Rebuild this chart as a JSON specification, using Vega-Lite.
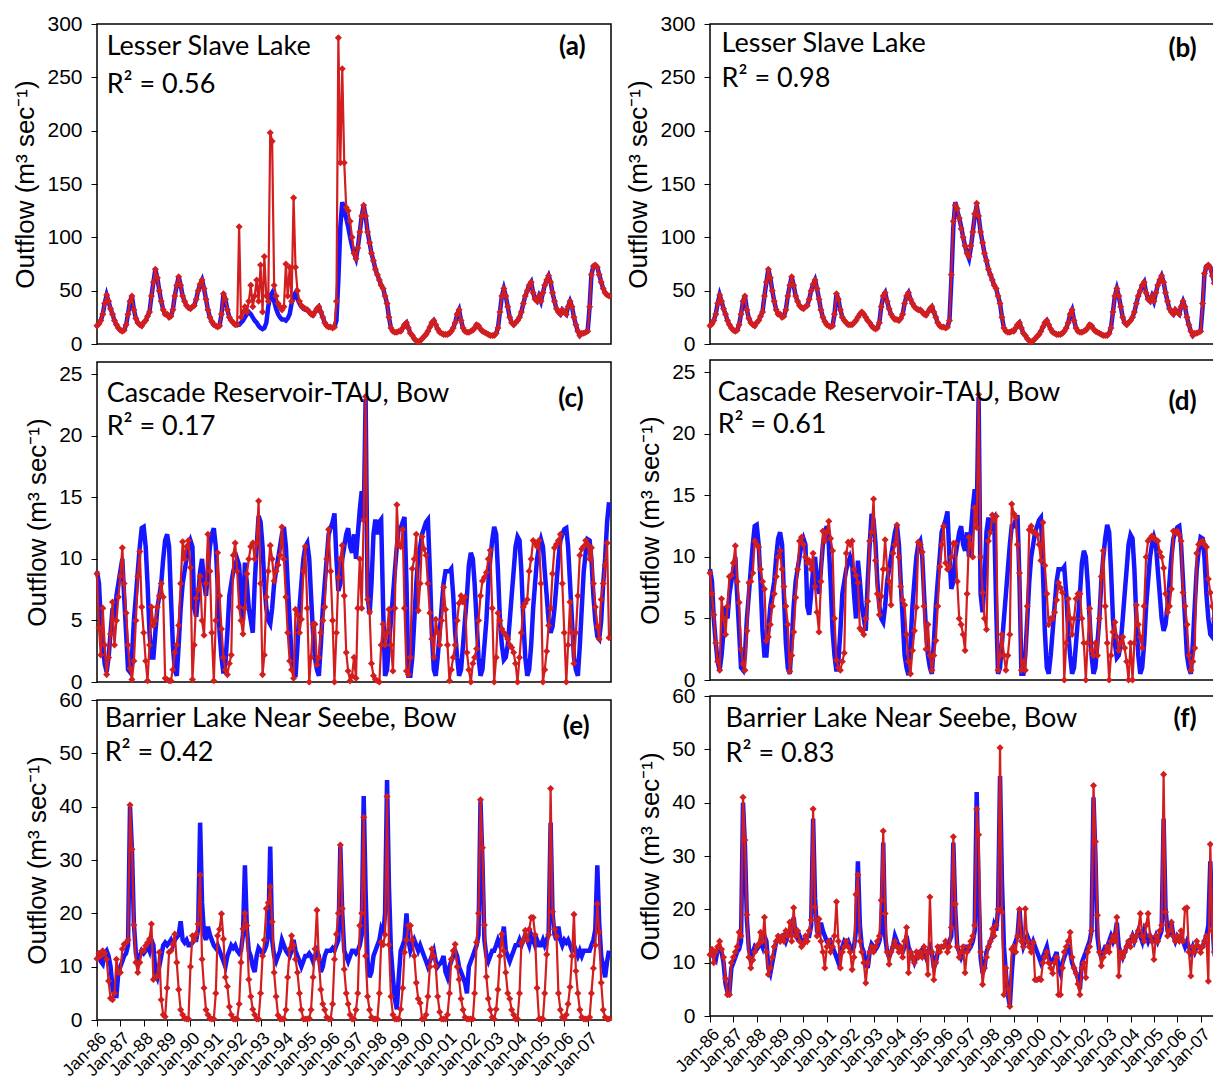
{
"$schema":"https://vega.github.io/schema/vega-lite/v6.json",
"padding":{"left":12,"top":12,"right":0,"bottom":0},
"background":"white",
"config":{
 "view":{"stroke":"#000","strokeWidth":1.5},
 "axis":{"grid":false,"domain":false,"ticks":true,"tickColor":"#000","tickSize":6,"tickWidth":1,"labelFont":"Liberation Sans","labelFontSize":21,"labelColor":"#000","titleFont":"Liberation Sans","titleFontSize":26,"titleFontWeight":"normal","titleColor":"#000","labelPadding":9,"titlePadding":8},
 "axisX":{"labelFontSize":17.5,"labelAngle":-45,"labelFlush":false,"labelPadding":3,"labelOverlap":false}
},
"datasets":{
"lsl":[
{"d":"1986-01","o":17,"a":17,"b":17},{"d":"1986-02","o":19,"a":19,"b":19},{"d":"1986-03","o":22,"a":22,"b":22},{"d":"1986-04","o":28,"a":28,"b":28},{"d":"1986-05","o":38,"a":38,"b":38},{"d":"1986-06","o":46,"a":46,"b":46},{"d":"1986-07","o":40,"a":40,"b":40},{"d":"1986-08","o":33,"a":33,"b":33},{"d":"1986-09","o":28,"a":28,"b":28},{"d":"1986-10","o":22,"a":22,"b":22},{"d":"1986-11","o":18,"a":18,"b":18},{"d":"1986-12","o":15,"a":15,"b":15},
{"d":"1987-01","o":13,"a":13,"b":13},{"d":"1987-02","o":12,"a":12,"b":12},{"d":"1987-03","o":13,"a":13,"b":13},{"d":"1987-04","o":18,"a":18,"b":18},{"d":"1987-05","o":28,"a":28,"b":28},{"d":"1987-06","o":40,"a":40,"b":40},{"d":"1987-07","o":45,"a":45,"b":45},{"d":"1987-08","o":32,"a":32,"b":32},{"d":"1987-09","o":24,"a":24,"b":24},{"d":"1987-10","o":20,"a":20,"b":20},{"d":"1987-11","o":18,"a":18,"b":18},{"d":"1987-12","o":17,"a":17,"b":17},
{"d":"1988-01","o":20,"a":20,"b":20},{"d":"1988-02","o":22,"a":22,"b":22},{"d":"1988-03","o":26,"a":26,"b":26},{"d":"1988-04","o":30,"a":30,"b":30},{"d":"1988-05","o":45,"a":45,"b":45},{"d":"1988-06","o":58,"a":58,"b":58},{"d":"1988-07","o":70,"a":70,"b":70},{"d":"1988-08","o":62,"a":62,"b":62},{"d":"1988-09","o":50,"a":50,"b":50},{"d":"1988-10","o":40,"a":40,"b":40},{"d":"1988-11","o":32,"a":32,"b":32},{"d":"1988-12","o":28,"a":28,"b":28},
{"d":"1989-01","o":28,"a":28,"b":28},{"d":"1989-02","o":25,"a":25,"b":25},{"d":"1989-03","o":26,"a":26,"b":26},{"d":"1989-04","o":32,"a":32,"b":32},{"d":"1989-05","o":45,"a":45,"b":45},{"d":"1989-06","o":55,"a":55,"b":55},{"d":"1989-07","o":63,"a":63,"b":63},{"d":"1989-08","o":55,"a":55,"b":55},{"d":"1989-09","o":45,"a":45,"b":45},{"d":"1989-10","o":40,"a":40,"b":40},{"d":"1989-11","o":36,"a":36,"b":36},{"d":"1989-12","o":34,"a":34,"b":34},
{"d":"1990-01","o":33,"a":33,"b":33},{"d":"1990-02","o":35,"a":35,"b":35},{"d":"1990-03","o":36,"a":36,"b":36},{"d":"1990-04","o":42,"a":42,"b":42},{"d":"1990-05","o":50,"a":50,"b":50},{"d":"1990-06","o":56,"a":56,"b":56},{"d":"1990-07","o":60,"a":60,"b":60},{"d":"1990-08","o":52,"a":52,"b":52},{"d":"1990-09","o":42,"a":42,"b":42},{"d":"1990-10","o":32,"a":32,"b":32},{"d":"1990-11","o":25,"a":25,"b":25},{"d":"1990-12","o":21,"a":21,"b":21},
{"d":"1991-01","o":18,"a":18,"b":18},{"d":"1991-02","o":17,"a":17,"b":17},{"d":"1991-03","o":16,"a":16,"b":16},{"d":"1991-04","o":17,"a":17,"b":17},{"d":"1991-05","o":28,"a":28,"b":28},{"d":"1991-06","o":47,"a":47,"b":47},{"d":"1991-07","o":42,"a":42,"b":42},{"d":"1991-08","o":32,"a":32,"b":32},{"d":"1991-09","o":25,"a":25,"b":25},{"d":"1991-10","o":22,"a":22,"b":22},{"d":"1991-11","o":20,"a":20,"b":20},{"d":"1991-12","o":18,"a":18,"b":18},
{"d":"1992-01","o":18,"a":18,"b":18},{"d":"1992-02","o":18,"a":110,"b":18},{"d":"1992-03","o":20,"a":25,"b":20},{"d":"1992-04","o":22,"a":30,"b":22},{"d":"1992-05","o":25,"a":35,"b":25},{"d":"1992-06","o":28,"a":30,"b":28},{"d":"1992-07","o":30,"a":40,"b":30},{"d":"1992-08","o":28,"a":55,"b":28},{"d":"1992-09","o":25,"a":35,"b":25},{"d":"1992-10","o":22,"a":45,"b":22},{"d":"1992-11","o":20,"a":60,"b":20},{"d":"1992-12","o":17,"a":40,"b":17},
{"d":"1993-01","o":15,"a":74,"b":15},{"d":"1993-02","o":14,"a":30,"b":14},{"d":"1993-03","o":15,"a":82,"b":15},{"d":"1993-04","o":20,"a":45,"b":20},{"d":"1993-05","o":35,"a":40,"b":35},{"d":"1993-06","o":45,"a":198,"b":45},{"d":"1993-07","o":48,"a":190,"b":48},{"d":"1993-08","o":40,"a":55,"b":40},{"d":"1993-09","o":33,"a":45,"b":33},{"d":"1993-10","o":28,"a":38,"b":28},{"d":"1993-11","o":25,"a":35,"b":25},{"d":"1993-12","o":23,"a":32,"b":23},
{"d":"1994-01","o":23,"a":35,"b":23},{"d":"1994-02","o":22,"a":75,"b":22},{"d":"1994-03","o":24,"a":45,"b":24},{"d":"1994-04","o":28,"a":72,"b":28},{"d":"1994-05","o":38,"a":40,"b":38},{"d":"1994-06","o":45,"a":137,"b":45},{"d":"1994-07","o":48,"a":72,"b":48},{"d":"1994-08","o":42,"a":50,"b":42},{"d":"1994-09","o":38,"a":40,"b":38},{"d":"1994-10","o":35,"a":36,"b":35},{"d":"1994-11","o":33,"a":34,"b":33},{"d":"1994-12","o":32,"a":33,"b":32},
{"d":"1995-01","o":32,"a":32,"b":32},{"d":"1995-02","o":30,"a":30,"b":30},{"d":"1995-03","o":28,"a":28,"b":28},{"d":"1995-04","o":27,"a":27,"b":27},{"d":"1995-05","o":30,"a":30,"b":30},{"d":"1995-06","o":33,"a":33,"b":33},{"d":"1995-07","o":35,"a":35,"b":35},{"d":"1995-08","o":30,"a":30,"b":30},{"d":"1995-09","o":25,"a":25,"b":25},{"d":"1995-10","o":20,"a":20,"b":20},{"d":"1995-11","o":17,"a":17,"b":17},{"d":"1995-12","o":16,"a":16,"b":16},
{"d":"1996-01","o":16,"a":16,"b":16},{"d":"1996-02","o":15,"a":15,"b":15},{"d":"1996-03","o":16,"a":16,"b":16},{"d":"1996-04","o":22,"a":40,"b":22},{"d":"1996-05","o":60,"a":287,"b":65},{"d":"1996-06","o":110,"a":170,"b":115},{"d":"1996-07","o":133,"a":258,"b":130},{"d":"1996-08","o":125,"a":170,"b":127},{"d":"1996-09","o":118,"a":128,"b":118},{"d":"1996-10","o":110,"a":125,"b":108},{"d":"1996-11","o":100,"a":115,"b":100},{"d":"1996-12","o":92,"a":100,"b":92},
{"d":"1997-01","o":85,"a":85,"b":85},{"d":"1997-02","o":80,"a":80,"b":82},{"d":"1997-03","o":90,"a":90,"b":92},{"d":"1997-04","o":105,"a":105,"b":105},{"d":"1997-05","o":120,"a":120,"b":122},{"d":"1997-06","o":130,"a":130,"b":132},{"d":"1997-07","o":120,"a":120,"b":120},{"d":"1997-08","o":105,"a":105,"b":105},{"d":"1997-09","o":95,"a":95,"b":95},{"d":"1997-10","o":85,"a":85,"b":85},{"d":"1997-11","o":78,"a":78,"b":78},{"d":"1997-12","o":70,"a":70,"b":70},
{"d":"1998-01","o":65,"a":65,"b":65},{"d":"1998-02","o":60,"a":60,"b":60},{"d":"1998-03","o":55,"a":55,"b":55},{"d":"1998-04","o":52,"a":52,"b":52},{"d":"1998-05","o":45,"a":45,"b":45},{"d":"1998-06","o":38,"a":38,"b":38},{"d":"1998-07","o":25,"a":25,"b":25},{"d":"1998-08","o":15,"a":15,"b":15},{"d":"1998-09","o":12,"a":12,"b":12},{"d":"1998-10","o":11,"a":11,"b":11},{"d":"1998-11","o":11,"a":11,"b":11},{"d":"1998-12","o":12,"a":12,"b":12},
{"d":"1999-01","o":12,"a":12,"b":12},{"d":"1999-02","o":15,"a":15,"b":15},{"d":"1999-03","o":18,"a":18,"b":18},{"d":"1999-04","o":20,"a":20,"b":20},{"d":"1999-05","o":15,"a":15,"b":15},{"d":"1999-06","o":10,"a":10,"b":10},{"d":"1999-07","o":8,"a":8,"b":8},{"d":"1999-08","o":5,"a":5,"b":5},{"d":"1999-09","o":3,"a":3,"b":3},{"d":"1999-10","o":2,"a":2,"b":2},{"d":"1999-11","o":3,"a":3,"b":3},{"d":"1999-12","o":5,"a":5,"b":5},
{"d":"2000-01","o":7,"a":7,"b":7},{"d":"2000-02","o":9,"a":9,"b":9},{"d":"2000-03","o":12,"a":12,"b":12},{"d":"2000-04","o":16,"a":16,"b":16},{"d":"2000-05","o":20,"a":20,"b":20},{"d":"2000-06","o":22,"a":22,"b":22},{"d":"2000-07","o":18,"a":18,"b":18},{"d":"2000-08","o":14,"a":14,"b":14},{"d":"2000-09","o":11,"a":11,"b":11},{"d":"2000-10","o":10,"a":10,"b":10},{"d":"2000-11","o":9,"a":9,"b":9},{"d":"2000-12","o":9,"a":9,"b":9},
{"d":"2001-01","o":9,"a":9,"b":9},{"d":"2001-02","o":10,"a":10,"b":10},{"d":"2001-03","o":12,"a":12,"b":12},{"d":"2001-04","o":15,"a":15,"b":15},{"d":"2001-05","o":20,"a":20,"b":20},{"d":"2001-06","o":28,"a":28,"b":28},{"d":"2001-07","o":32,"a":32,"b":32},{"d":"2001-08","o":22,"a":22,"b":22},{"d":"2001-09","o":15,"a":15,"b":15},{"d":"2001-10","o":12,"a":12,"b":12},{"d":"2001-11","o":11,"a":11,"b":11},{"d":"2001-12","o":11,"a":11,"b":11},
{"d":"2002-01","o":12,"a":12,"b":12},{"d":"2002-02","o":13,"a":13,"b":13},{"d":"2002-03","o":15,"a":15,"b":15},{"d":"2002-04","o":18,"a":18,"b":18},{"d":"2002-05","o":17,"a":17,"b":17},{"d":"2002-06","o":14,"a":14,"b":14},{"d":"2002-07","o":12,"a":12,"b":12},{"d":"2002-08","o":11,"a":11,"b":11},{"d":"2002-09","o":10,"a":10,"b":10},{"d":"2002-10","o":9,"a":9,"b":9},{"d":"2002-11","o":8,"a":8,"b":8},{"d":"2002-12","o":8,"a":8,"b":8},
{"d":"2003-01","o":8,"a":8,"b":8},{"d":"2003-02","o":10,"a":10,"b":10},{"d":"2003-03","o":15,"a":15,"b":15},{"d":"2003-04","o":30,"a":30,"b":30},{"d":"2003-05","o":45,"a":45,"b":45},{"d":"2003-06","o":52,"a":52,"b":52},{"d":"2003-07","o":45,"a":45,"b":45},{"d":"2003-08","o":35,"a":35,"b":35},{"d":"2003-09","o":25,"a":25,"b":25},{"d":"2003-10","o":20,"a":20,"b":20},{"d":"2003-11","o":18,"a":18,"b":18},{"d":"2003-12","o":20,"a":20,"b":20},
{"d":"2004-01","o":22,"a":22,"b":22},{"d":"2004-02","o":25,"a":25,"b":25},{"d":"2004-03","o":30,"a":30,"b":30},{"d":"2004-04","o":38,"a":38,"b":38},{"d":"2004-05","o":45,"a":45,"b":45},{"d":"2004-06","o":50,"a":50,"b":50},{"d":"2004-07","o":55,"a":55,"b":55},{"d":"2004-08","o":58,"a":58,"b":58},{"d":"2004-09","o":48,"a":48,"b":48},{"d":"2004-10","o":42,"a":42,"b":42},{"d":"2004-11","o":40,"a":40,"b":40},{"d":"2004-12","o":45,"a":45,"b":45},
{"d":"2005-01","o":40,"a":40,"b":40},{"d":"2005-02","o":48,"a":48,"b":48},{"d":"2005-03","o":55,"a":55,"b":55},{"d":"2005-04","o":60,"a":60,"b":60},{"d":"2005-05","o":64,"a":64,"b":64},{"d":"2005-06","o":58,"a":58,"b":58},{"d":"2005-07","o":48,"a":48,"b":48},{"d":"2005-08","o":40,"a":40,"b":40},{"d":"2005-09","o":33,"a":33,"b":33},{"d":"2005-10","o":30,"a":30,"b":30},{"d":"2005-11","o":28,"a":28,"b":28},{"d":"2005-12","o":32,"a":32,"b":32},
{"d":"2006-01","o":30,"a":30,"b":30},{"d":"2006-02","o":28,"a":28,"b":28},{"d":"2006-03","o":35,"a":35,"b":35},{"d":"2006-04","o":40,"a":40,"b":40},{"d":"2006-05","o":35,"a":35,"b":35},{"d":"2006-06","o":25,"a":25,"b":25},{"d":"2006-07","o":18,"a":18,"b":18},{"d":"2006-08","o":12,"a":12,"b":12},{"d":"2006-09","o":8,"a":8,"b":8},{"d":"2006-10","o":10,"a":10,"b":10},{"d":"2006-11","o":10,"a":10,"b":10},{"d":"2006-12","o":11,"a":11,"b":11},
{"d":"2007-01","o":12,"a":12,"b":12},{"d":"2007-02","o":35,"a":35,"b":38},{"d":"2007-03","o":65,"a":65,"b":66},{"d":"2007-04","o":73,"a":73,"b":72},{"d":"2007-05","o":74,"a":74,"b":74},{"d":"2007-06","o":72,"a":72,"b":71},{"d":"2007-07","o":65,"a":65,"b":64},{"d":"2007-08","o":58,"a":58,"b":57},{"d":"2007-09","o":52,"a":52,"b":52},{"d":"2007-10","o":48,"a":48,"b":48},{"d":"2007-11","o":46,"a":46,"b":46},{"d":"2007-12","o":45,"a":45,"b":45}
],
"cas":[
{"d":"1986-01","o":9,"a":8.8,"b":8.7},{"d":"1986-02","o":8,"a":4.4,"b":7},{"d":"1986-03","o":5,"a":2.2,"b":5.3},{"d":"1986-04","o":3,"a":6,"b":3},{"d":"1986-05","o":1.5,"a":3,"b":1.5},{"d":"1986-06","o":0.8,"a":0.6,"b":0.8},{"d":"1986-07","o":2,"a":2,"b":6.6},{"d":"1986-08","o":4,"a":3.9,"b":5},{"d":"1986-09","o":6,"a":6.5,"b":3.7},{"d":"1986-10","o":5,"a":3,"b":6},{"d":"1986-11","o":7,"a":5,"b":8.4},{"d":"1986-12","o":8,"a":6.9,"b":8.5},
{"d":"1987-01","o":9,"a":8.6,"b":9.5},{"d":"1987-02","o":10,"a":10.9,"b":10.9},{"d":"1987-03","o":7,"a":8,"b":8},{"d":"1987-04","o":4,"a":5.6,"b":6.3},{"d":"1987-05","o":1,"a":3,"b":2.5},{"d":"1987-06","o":0.8,"a":1.1,"b":1.3},{"d":"1987-07","o":2,"a":0.2,"b":0.8},{"d":"1987-08","o":5,"a":1.7,"b":4},{"d":"1987-09","o":7,"a":5,"b":7.9},{"d":"1987-10","o":9,"a":8.6,"b":8},{"d":"1987-11","o":11,"a":10.6,"b":8.7},{"d":"1987-12","o":12.5,"a":6.1,"b":11.3},
{"d":"1988-01","o":12.6,"a":4,"b":11},{"d":"1988-02","o":11,"a":1.7,"b":10.8},{"d":"1988-03","o":8,"a":0.1,"b":9},{"d":"1988-04","o":4,"a":3,"b":8},{"d":"1988-05","o":2,"a":6.1,"b":7.4},{"d":"1988-06","o":2,"a":4.6,"b":3.2},{"d":"1988-07","o":4,"a":5,"b":3.5},{"d":"1988-08","o":6,"a":6.1,"b":4.5},{"d":"1988-09","o":7,"a":7,"b":6},{"d":"1988-10","o":8,"a":8,"b":7},{"d":"1988-11","o":10,"a":6.9,"b":8.4},{"d":"1988-12","o":11.5,"a":0.3,"b":10},
{"d":"1989-01","o":12,"a":0.2,"b":10.5},{"d":"1989-02","o":11,"a":0.1,"b":9},{"d":"1989-03","o":7,"a":0.1,"b":7.6},{"d":"1989-04","o":3,"a":1,"b":6},{"d":"1989-05","o":1,"a":2.4,"b":4.5},{"d":"1989-06","o":0.5,"a":3,"b":0.7},{"d":"1989-07","o":3,"a":4.6,"b":2},{"d":"1989-08","o":6,"a":8,"b":3.9},{"d":"1989-09","o":8,"a":11.4,"b":6.7},{"d":"1989-10","o":9,"a":10,"b":9},{"d":"1989-11","o":10,"a":11,"b":11.3},{"d":"1989-12","o":11,"a":11.5,"b":11.6},
{"d":"1990-01","o":11.5,"a":9.3,"b":11},{"d":"1990-02","o":11,"a":0.2,"b":10},{"d":"1990-03","o":6,"a":3,"b":9.5},{"d":"1990-04","o":5.3,"a":6.8,"b":9.7},{"d":"1990-05","o":7,"a":7.5,"b":9},{"d":"1990-06","o":9,"a":8.6,"b":10.3},{"d":"1990-07","o":10,"a":5,"b":7.6},{"d":"1990-08","o":8,"a":3.8,"b":5.5},{"d":"1990-09","o":7,"a":8,"b":3.9},{"d":"1990-10","o":9,"a":12,"b":8},{"d":"1990-11","o":11,"a":9,"b":12.1},{"d":"1990-12","o":12,"a":4,"b":11.3},
{"d":"1991-01","o":12.5,"a":0.1,"b":12},{"d":"1991-02","o":11,"a":5,"b":12.9},{"d":"1991-03","o":8,"a":10.5,"b":11.5},{"d":"1991-04","o":4,"a":7,"b":10.5},{"d":"1991-05","o":2,"a":4.3,"b":5},{"d":"1991-06","o":0.7,"a":2,"b":1.6},{"d":"1991-07","o":1.5,"a":1,"b":1},{"d":"1991-08","o":4,"a":0.6,"b":0.8},{"d":"1991-09","o":7,"a":1.5,"b":1.5},{"d":"1991-10","o":8,"a":2.2,"b":2.2},{"d":"1991-11","o":9,"a":10.3,"b":10.3},{"d":"1991-12","o":9.5,"a":11.3,"b":11.2},
{"d":"1992-01","o":10,"a":9,"b":11},{"d":"1992-02","o":9.5,"a":6.1,"b":11.3},{"d":"1992-03","o":7,"a":5,"b":9},{"d":"1992-04","o":5,"a":3.9,"b":8.5},{"d":"1992-05","o":9.7,"a":6,"b":7.9},{"d":"1992-06","o":8,"a":8.8,"b":4.2},{"d":"1992-07","o":6,"a":10,"b":4},{"d":"1992-08","o":5,"a":11,"b":3.7},{"d":"1992-09","o":4,"a":11.3,"b":5},{"d":"1992-10","o":8,"a":10,"b":6.4},{"d":"1992-11","o":11,"a":11.3,"b":11.3},{"d":"1992-12","o":13.5,"a":14.7,"b":12},
{"d":"1993-01","o":13,"a":8,"b":14.7},{"d":"1993-02","o":11,"a":0.6,"b":9.7},{"d":"1993-03","o":8,"a":2.2,"b":7},{"d":"1993-04","o":6,"a":6.9,"b":5.3},{"d":"1993-05","o":5,"a":9,"b":6.8},{"d":"1993-06","o":4.7,"a":11.1,"b":9},{"d":"1993-07","o":6,"a":10,"b":11.4},{"d":"1993-08","o":8,"a":8.2,"b":9},{"d":"1993-09","o":9,"a":9,"b":8},{"d":"1993-10","o":10,"a":9.5,"b":6.1},{"d":"1993-11","o":11,"a":10.3,"b":10.3},{"d":"1993-12","o":12,"a":12.6,"b":11},
{"d":"1994-01","o":12.6,"a":10,"b":12.6},{"d":"1994-02","o":11,"a":6.9,"b":10},{"d":"1994-03","o":8,"a":4,"b":7.6},{"d":"1994-04","o":5,"a":1.7,"b":6.5},{"d":"1994-05","o":2,"a":1,"b":6.1},{"d":"1994-06","o":1,"a":0.3,"b":3.7},{"d":"1994-07","o":0.4,"a":5.9,"b":1.5},{"d":"1994-08","o":3,"a":5.5,"b":0.5},{"d":"1994-09","o":6,"a":4,"b":2.4},{"d":"1994-10","o":8,"a":5.1,"b":4},{"d":"1994-11","o":10,"a":9,"b":5.9},{"d":"1994-12","o":11,"a":11,"b":11.2},
{"d":"1995-01","o":11.3,"a":6,"b":11},{"d":"1995-02","o":10,"a":0,"b":10.4},{"d":"1995-03","o":7,"a":2,"b":6},{"d":"1995-04","o":4,"a":4.7,"b":2.5},{"d":"1995-05","o":2,"a":4.7,"b":4.5},{"d":"1995-06","o":1,"a":1.4,"b":2},{"d":"1995-07","o":0.5,"a":2,"b":0.8},{"d":"1995-08","o":3,"a":4,"b":2},{"d":"1995-09","o":6,"a":5,"b":3.2},{"d":"1995-10","o":8,"a":6.1,"b":6},{"d":"1995-11","o":10,"a":10,"b":9.2},{"d":"1995-12","o":12,"a":12.4,"b":11},
{"d":"1996-01","o":12.5,"a":9,"b":12.5},{"d":"1996-02","o":13,"a":5,"b":9.5},{"d":"1996-03","o":13.7,"a":0,"b":9},{"d":"1996-04","o":10,"a":4,"b":9.2},{"d":"1996-05","o":7.4,"a":8.5,"b":10},{"d":"1996-06","o":8,"a":10,"b":11.1},{"d":"1996-07","o":10,"a":11.1,"b":11.1},{"d":"1996-08","o":11,"a":7,"b":8},{"d":"1996-09","o":12,"a":2.4,"b":5},{"d":"1996-10","o":12.5,"a":0.9,"b":4.5},{"d":"1996-11","o":11,"a":0.1,"b":3.7},{"d":"1996-12","o":10.5,"a":0.5,"b":2.4},
{"d":"1997-01","o":12,"a":2,"b":7},{"d":"1997-02","o":10,"a":0.3,"b":11.6},{"d":"1997-03","o":12,"a":6,"b":11},{"d":"1997-04","o":14,"a":10,"b":10},{"d":"1997-05","o":15.5,"a":6,"b":14},{"d":"1997-06","o":13,"a":13.2,"b":12.4},{"d":"1997-07","o":23,"a":23.2,"b":23.2},{"d":"1997-08","o":7,"a":6.7,"b":10},{"d":"1997-09","o":5.5,"a":5.7,"b":7.1},{"d":"1997-10","o":8,"a":1.5,"b":5},{"d":"1997-11","o":12,"a":0.5,"b":4.1},{"d":"1997-12","o":13.2,"a":0.2,"b":11.3},
{"d":"1998-01","o":12,"a":0.1,"b":12},{"d":"1998-02","o":13,"a":0,"b":13.4},{"d":"1998-03","o":13.2,"a":3,"b":13},{"d":"1998-04","o":6,"a":4.7,"b":13.3},{"d":"1998-05","o":0.5,"a":3,"b":0.8},{"d":"1998-06","o":1,"a":4,"b":2},{"d":"1998-07","o":3,"a":5.9,"b":3.7},{"d":"1998-08","o":5,"a":3,"b":2},{"d":"1998-09","o":7,"a":0.9,"b":0.8},{"d":"1998-10","o":9,"a":6,"b":2},{"d":"1998-11","o":11,"a":14.4,"b":3.7},{"d":"1998-12","o":12.5,"a":11.1,"b":14.3},
{"d":"1999-01","o":12.5,"a":11,"b":13.5},{"d":"1999-02","o":13,"a":12.4,"b":13.2},{"d":"1999-03","o":13.4,"a":6,"b":11},{"d":"1999-04","o":8,"a":0.9,"b":8.7},{"d":"1999-05","o":0.5,"a":0.6,"b":0.8},{"d":"1999-06","o":0.5,"a":2,"b":1.5},{"d":"1999-07","o":2,"a":9.2,"b":0.8},{"d":"1999-08","o":5,"a":10,"b":6},{"d":"1999-09","o":8,"a":12,"b":12.2},{"d":"1999-10","o":10,"a":5.8,"b":12.5},{"d":"1999-11","o":11,"a":8,"b":12},{"d":"1999-12","o":12,"a":11.8,"b":12},
{"d":"2000-01","o":12.5,"a":10.8,"b":11.8},{"d":"2000-02","o":13,"a":10.3,"b":11},{"d":"2000-03","o":13.2,"a":8,"b":9.7},{"d":"2000-04","o":9,"a":5.6,"b":12.8},{"d":"2000-05","o":4,"a":3.5,"b":9.3},{"d":"2000-06","o":1,"a":2,"b":7},{"d":"2000-07","o":0.5,"a":5.1,"b":4.5},{"d":"2000-08","o":2,"a":4,"b":5},{"d":"2000-09","o":4,"a":3,"b":5},{"d":"2000-10","o":6,"a":5,"b":5.5},{"d":"2000-11","o":8,"a":7.7,"b":6.5},{"d":"2000-12","o":9,"a":5.9,"b":7.9},
{"d":"2001-01","o":9,"a":3,"b":7.5},{"d":"2001-02","o":9,"a":0.1,"b":7.1},{"d":"2001-03","o":9.2,"a":1,"b":0},{"d":"2001-04","o":7,"a":2,"b":3},{"d":"2001-05","o":4,"a":3,"b":6.6},{"d":"2001-06","o":2,"a":5,"b":5},{"d":"2001-07","o":0.5,"a":6.4,"b":3.7},{"d":"2001-08","o":1,"a":7,"b":5},{"d":"2001-09","o":3,"a":6.5,"b":6.6},{"d":"2001-10","o":5,"a":6.9,"b":7},{"d":"2001-11","o":7,"a":2.4,"b":7},{"d":"2001-12","o":9.5,"a":1,"b":5},
{"d":"2002-01","o":10.5,"a":0,"b":3},{"d":"2002-02","o":10,"a":1.5,"b":0},{"d":"2002-03","o":8,"a":2,"b":3},{"d":"2002-04","o":5,"a":2.7,"b":5.8},{"d":"2002-05","o":2,"a":5,"b":2.4},{"d":"2002-06","o":0.5,"a":7,"b":2},{"d":"2002-07","o":1,"a":8.2,"b":3},{"d":"2002-08","o":3,"a":8.5,"b":2},{"d":"2002-09","o":5,"a":8.9,"b":5},{"d":"2002-10","o":8,"a":10,"b":8.4},{"d":"2002-11","o":10,"a":10.7,"b":10.5},{"d":"2002-12","o":11.5,"a":6,"b":6},
{"d":"2003-01","o":12.6,"a":0,"b":3},{"d":"2003-02","o":12,"a":2,"b":0},{"d":"2003-03","o":9,"a":5.6,"b":2},{"d":"2003-04","o":5,"a":5,"b":3.9},{"d":"2003-05","o":3,"a":4.3,"b":4.7},{"d":"2003-06","o":1.8,"a":4,"b":3.5},{"d":"2003-07","o":2,"a":3.8,"b":2.4},{"d":"2003-08","o":3,"a":3.5,"b":3},{"d":"2003-09","o":5,"a":3,"b":3.5},{"d":"2003-10","o":7,"a":2.8,"b":2.6},{"d":"2003-11","o":9,"a":2.4,"b":1.5},{"d":"2003-12","o":11,"a":1.5,"b":0},
{"d":"2004-01","o":11.8,"a":0,"b":3},{"d":"2004-02","o":11.5,"a":2,"b":0},{"d":"2004-03","o":9,"a":4,"b":3},{"d":"2004-04","o":5,"a":6.1,"b":6.1},{"d":"2004-05","o":2,"a":6.4,"b":4.5},{"d":"2004-06","o":0.5,"a":6.7,"b":3.5},{"d":"2004-07","o":1,"a":9,"b":2.6},{"d":"2004-08","o":3,"a":10,"b":6},{"d":"2004-09","o":6,"a":11.5,"b":10},{"d":"2004-10","o":8,"a":11.3,"b":11.3},{"d":"2004-11","o":10,"a":11,"b":11.5},{"d":"2004-12","o":11,"a":11.5,"b":11.7},
{"d":"2005-01","o":11.6,"a":8,"b":11.5},{"d":"2005-02","o":11,"a":0,"b":11.4},{"d":"2005-03","o":9,"a":1,"b":11.3},{"d":"2005-04","o":7,"a":2.5,"b":10.4},{"d":"2005-05","o":5,"a":4.6,"b":10},{"d":"2005-06","o":4,"a":6,"b":9.1},{"d":"2005-07","o":4.5,"a":8.8,"b":7},{"d":"2005-08","o":6,"a":10.9,"b":5.5},{"d":"2005-09","o":8,"a":11.2,"b":6},{"d":"2005-10","o":10,"a":11.5,"b":7.4},{"d":"2005-11","o":11.5,"a":12,"b":12.1},{"d":"2005-12","o":12,"a":8,"b":12},
{"d":"2006-01","o":12.4,"a":4,"b":12.1},{"d":"2006-02","o":12.5,"a":0,"b":11.8},{"d":"2006-03","o":11,"a":3,"b":11.3},{"d":"2006-04","o":8,"a":6.5,"b":7.1},{"d":"2006-05","o":5,"a":4,"b":6},{"d":"2006-06","o":2,"a":1.5,"b":4.5},{"d":"2006-07","o":1,"a":4,"b":2},{"d":"2006-08","o":0.5,"a":7,"b":0.8},{"d":"2006-09","o":3,"a":10.3,"b":1.5},{"d":"2006-10","o":6,"a":10.8,"b":2.6},{"d":"2006-11","o":9,"a":11,"b":10.3},{"d":"2006-12","o":10.5,"a":11.5,"b":11},
{"d":"2007-01","o":11.6,"a":11.2,"b":11.2},{"d":"2007-02","o":11.5,"a":10,"b":11.3},{"d":"2007-03","o":10,"a":10.9,"b":11},{"d":"2007-04","o":7,"a":8,"b":10.8},{"d":"2007-05","o":5,"a":6.1,"b":8.2},{"d":"2007-06","o":3.7,"a":4.5,"b":7.1},{"d":"2007-07","o":3.5,"a":3.5,"b":6},{"d":"2007-08","o":5,"a":6.7,"b":5},{"d":"2007-09","o":8,"a":8,"b":5.5},{"d":"2007-10","o":10,"a":9.5,"b":6.6},{"d":"2007-11","o":13,"a":11.3,"b":8},{"d":"2007-12","o":14.6,"a":3.6,"b":9}
],
"bar":[
{"d":"1986-01","o":11.5,"a":11.5,"b":11.5},{"d":"1986-02","o":12,"a":12.5,"b":12.5},{"d":"1986-03","o":11,"a":12,"b":10},{"d":"1986-04","o":10.5,"a":13,"b":12},{"d":"1986-05","o":12.5,"a":12.5,"b":13},{"d":"1986-06","o":13,"a":11.4,"b":14},{"d":"1986-07","o":12,"a":7.3,"b":12.5},{"d":"1986-08","o":10,"a":4.1,"b":11},{"d":"1986-09","o":6,"a":3.8,"b":7},{"d":"1986-10","o":4.5,"a":5,"b":4},{"d":"1986-11","o":4.5,"a":11.4,"b":4},{"d":"1986-12","o":9,"a":8.9,"b":10},
{"d":"1987-01","o":10,"a":8.9,"b":11},{"d":"1987-02","o":11,"a":13.3,"b":12},{"d":"1987-03","o":12,"a":14.2,"b":13},{"d":"1987-04","o":12.5,"a":14.5,"b":15.7},{"d":"1987-05","o":14,"a":15,"b":15},{"d":"1987-06","o":40,"a":40.3,"b":41},{"d":"1987-07","o":32,"a":32,"b":33},{"d":"1987-08","o":18,"a":17.8,"b":19},{"d":"1987-09","o":12.5,"a":10.8,"b":11},{"d":"1987-10","o":11,"a":8.9,"b":9},{"d":"1987-11","o":12,"a":10.8,"b":10.5},{"d":"1987-12","o":13,"a":13,"b":12},
{"d":"1988-01","o":12.5,"a":13,"b":13},{"d":"1988-02","o":13,"a":13.9,"b":13.5},{"d":"1988-03","o":14,"a":14.5,"b":15.7},{"d":"1988-04","o":13,"a":15.2,"b":14},{"d":"1988-05","o":15,"a":18,"b":18.5},{"d":"1988-06","o":14,"a":7.6,"b":12},{"d":"1988-07","o":9,"a":8,"b":7.8},{"d":"1988-08","o":8,"a":8.2,"b":9},{"d":"1988-09","o":10,"a":12.7,"b":11},{"d":"1988-10","o":12,"a":3.8,"b":13},{"d":"1988-11","o":14,"a":1,"b":14},{"d":"1988-12","o":14.5,"a":0.6,"b":15},
{"d":"1989-01","o":14,"a":6,"b":14},{"d":"1989-02","o":14.5,"a":12.7,"b":15},{"d":"1989-03","o":15,"a":13,"b":14},{"d":"1989-04","o":14,"a":14.2,"b":16},{"d":"1989-05","o":15,"a":16.1,"b":15},{"d":"1989-06","o":15.5,"a":10.8,"b":17.6},{"d":"1989-07","o":16,"a":5.7,"b":14},{"d":"1989-08","o":18.5,"a":1.9,"b":20.3},{"d":"1989-09","o":15,"a":1,"b":15},{"d":"1989-10","o":14.5,"a":0.3,"b":16},{"d":"1989-11","o":15,"a":0.2,"b":14},{"d":"1989-12","o":14,"a":0.2,"b":13},
{"d":"1990-01","o":14,"a":10,"b":13.5},{"d":"1990-02","o":14.5,"a":15.8,"b":15},{"d":"1990-03","o":15,"a":15,"b":14},{"d":"1990-04","o":15,"a":16.1,"b":16},{"d":"1990-05","o":17,"a":18,"b":18},{"d":"1990-06","o":37,"a":27.2,"b":38.8},{"d":"1990-07","o":22,"a":11.4,"b":20.4},{"d":"1990-08","o":16,"a":6,"b":15},{"d":"1990-09","o":15,"a":1.9,"b":18.2},{"d":"1990-10","o":17.5,"a":1,"b":14},{"d":"1990-11","o":16,"a":0.3,"b":12},{"d":"1990-12","o":15,"a":0.2,"b":9},
{"d":"1991-01","o":14,"a":0.2,"b":13},{"d":"1991-02","o":13.5,"a":5,"b":14},{"d":"1991-03","o":14,"a":15.8,"b":12},{"d":"1991-04","o":13,"a":17,"b":13},{"d":"1991-05","o":12,"a":19.9,"b":15},{"d":"1991-06","o":11,"a":15.2,"b":21.4},{"d":"1991-07","o":10,"a":8,"b":14},{"d":"1991-08","o":12,"a":6.3,"b":9},{"d":"1991-09","o":13,"a":2.5,"b":12},{"d":"1991-10","o":14,"a":1,"b":13},{"d":"1991-11","o":13.5,"a":0.2,"b":14},{"d":"1991-12","o":14,"a":0.2,"b":13},
{"d":"1992-01","o":13,"a":0.2,"b":12},{"d":"1992-02","o":12.5,"a":3,"b":8.7},{"d":"1992-03","o":13,"a":10.8,"b":11},{"d":"1992-04","o":16,"a":17.1,"b":22.8},{"d":"1992-05","o":29,"a":20,"b":26.5},{"d":"1992-06","o":17,"a":17.7,"b":14},{"d":"1992-07","o":13,"a":7.6,"b":12},{"d":"1992-08","o":12,"a":4.4,"b":10},{"d":"1992-09","o":10,"a":2,"b":6.2},{"d":"1992-10","o":9,"a":1,"b":10},{"d":"1992-11","o":12,"a":0.2,"b":12},{"d":"1992-12","o":13.5,"a":0.2,"b":13},
{"d":"1993-01","o":13,"a":5,"b":12},{"d":"1993-02","o":12.5,"a":12,"b":13},{"d":"1993-03","o":13,"a":15,"b":14},{"d":"1993-04","o":14,"a":20.9,"b":15},{"d":"1993-05","o":16,"a":22,"b":21.7},{"d":"1993-06","o":32.5,"a":25,"b":34.7},{"d":"1993-07","o":15,"a":18.4,"b":19.2},{"d":"1993-08","o":12,"a":8.9,"b":12},{"d":"1993-09","o":11,"a":4.4,"b":9.7},{"d":"1993-10","o":12,"a":0.9,"b":12},{"d":"1993-11","o":13,"a":0.2,"b":13},{"d":"1993-12","o":15,"a":0.2,"b":14},
{"d":"1994-01","o":14,"a":0.2,"b":13},{"d":"1994-02","o":13,"a":1.9,"b":12},{"d":"1994-03","o":12.5,"a":8,"b":13},{"d":"1994-04","o":12,"a":13.3,"b":11},{"d":"1994-05","o":13,"a":15.8,"b":14},{"d":"1994-06","o":15,"a":14,"b":16.6},{"d":"1994-07","o":13,"a":11.4,"b":8.1},{"d":"1994-08","o":12,"a":8.9,"b":12},{"d":"1994-09","o":11,"a":5,"b":11},{"d":"1994-10","o":10,"a":1.9,"b":10},{"d":"1994-11","o":11,"a":0.2,"b":12},{"d":"1994-12","o":12,"a":0.2,"b":11},
{"d":"1995-01","o":12,"a":0.2,"b":12},{"d":"1995-02","o":12.5,"a":0.3,"b":11},{"d":"1995-03","o":12,"a":1.9,"b":13},{"d":"1995-04","o":11,"a":8,"b":12},{"d":"1995-05","o":12,"a":13.3,"b":7.8},{"d":"1995-06","o":13,"a":20.6,"b":22.3},{"d":"1995-07","o":12,"a":11.4,"b":12},{"d":"1995-08","o":9,"a":5.7,"b":6.8},{"d":"1995-09","o":10,"a":3,"b":10},{"d":"1995-10","o":12,"a":1.9,"b":13},{"d":"1995-11","o":13,"a":0.5,"b":12},{"d":"1995-12","o":13,"a":0.2,"b":13},
{"d":"1996-01","o":13,"a":0.2,"b":13},{"d":"1996-02","o":13.5,"a":3,"b":14},{"d":"1996-03","o":13,"a":11.4,"b":12},{"d":"1996-04","o":14,"a":16.1,"b":13},{"d":"1996-05","o":15,"a":20,"b":16.6},{"d":"1996-06","o":32.5,"a":32.8,"b":33.6},{"d":"1996-07","o":20,"a":20.9,"b":21},{"d":"1996-08","o":13,"a":9.5,"b":13},{"d":"1996-09","o":12,"a":5,"b":11},{"d":"1996-10","o":11,"a":3,"b":12},{"d":"1996-11","o":12,"a":1,"b":13},{"d":"1996-12","o":13,"a":0.2,"b":8.1},
{"d":"1997-01","o":13,"a":0.2,"b":12},{"d":"1997-02","o":12.5,"a":1.9,"b":13},{"d":"1997-03","o":13,"a":5,"b":14},{"d":"1997-04","o":14,"a":17.7,"b":15},{"d":"1997-05","o":16,"a":20,"b":17},{"d":"1997-06","o":42,"a":38,"b":38.8},{"d":"1997-07","o":24,"a":12,"b":34},{"d":"1997-08","o":11,"a":4.4,"b":12},{"d":"1997-09","o":8,"a":1.9,"b":5.9},{"d":"1997-10","o":9,"a":0.5,"b":9},{"d":"1997-11","o":12,"a":0.2,"b":11},{"d":"1997-12","o":13,"a":0.2,"b":13},
{"d":"1998-01","o":14,"a":0.2,"b":14},{"d":"1998-02","o":15,"a":5,"b":16.3},{"d":"1998-03","o":17,"a":14.6,"b":15},{"d":"1998-04","o":16,"a":14.1,"b":17},{"d":"1998-05","o":20,"a":16,"b":20},{"d":"1998-06","o":45,"a":41.9,"b":50.3},{"d":"1998-07","o":25,"a":14.1,"b":19.5},{"d":"1998-08","o":13,"a":4.4,"b":4},{"d":"1998-09","o":8,"a":1,"b":9},{"d":"1998-10","o":4,"a":0.2,"b":5},{"d":"1998-11","o":2,"a":0.2,"b":1.8},{"d":"1998-12","o":8,"a":0.2,"b":12.5},
{"d":"1999-01","o":13,"a":2,"b":13},{"d":"1999-02","o":14,"a":6,"b":12},{"d":"1999-03","o":15,"a":12.7,"b":15},{"d":"1999-04","o":20,"a":15,"b":20},{"d":"1999-05","o":15,"a":17.7,"b":14},{"d":"1999-06","o":13,"a":17.7,"b":13},{"d":"1999-07","o":14,"a":15,"b":20.1},{"d":"1999-08","o":15,"a":12,"b":14},{"d":"1999-09","o":14,"a":7,"b":13},{"d":"1999-10","o":13,"a":4,"b":12},{"d":"1999-11","o":14,"a":3.2,"b":13.8},{"d":"1999-12","o":13,"a":0.2,"b":6.8},
{"d":"2000-01","o":12,"a":0.2,"b":6.8},{"d":"2000-02","o":11,"a":1,"b":7},{"d":"2000-03","o":10,"a":4.4,"b":6.8},{"d":"2000-04","o":11,"a":10,"b":10},{"d":"2000-05","o":12,"a":13.3,"b":11},{"d":"2000-06","o":13,"a":12,"b":12},{"d":"2000-07","o":11,"a":10.1,"b":10},{"d":"2000-08","o":10,"a":4.4,"b":9},{"d":"2000-09","o":10.5,"a":1.5,"b":8},{"d":"2000-10","o":11,"a":0.2,"b":10},{"d":"2000-11","o":12,"a":0.2,"b":11},{"d":"2000-12","o":9,"a":0.2,"b":4},
{"d":"2001-01","o":8,"a":1,"b":4},{"d":"2001-02","o":10,"a":5,"b":9},{"d":"2001-03","o":11,"a":11.4,"b":12},{"d":"2001-04","o":12,"a":13,"b":13},{"d":"2001-05","o":13,"a":14.2,"b":14},{"d":"2001-06","o":12,"a":10,"b":15.7},{"d":"2001-07","o":10,"a":7.6,"b":11},{"d":"2001-08","o":9,"a":4,"b":9},{"d":"2001-09","o":8,"a":1.9,"b":8},{"d":"2001-10","o":7,"a":0.5,"b":6},{"d":"2001-11","o":5,"a":0.2,"b":4},{"d":"2001-12","o":10,"a":0.2,"b":9},
{"d":"2002-01","o":11,"a":0.2,"b":10},{"d":"2002-02","o":12,"a":0.2,"b":7.2},{"d":"2002-03","o":13,"a":5,"b":12},{"d":"2002-04","o":14,"a":14.6,"b":13},{"d":"2002-05","o":16,"a":20,"b":16},{"d":"2002-06","o":41,"a":41.3,"b":43.2},{"d":"2002-07","o":30,"a":32.3,"b":32.7},{"d":"2002-08","o":15,"a":17.8,"b":18.9},{"d":"2002-09","o":12,"a":8.1,"b":12},{"d":"2002-10","o":11,"a":4,"b":9.4},{"d":"2002-11","o":12,"a":1.9,"b":11},{"d":"2002-12","o":13,"a":0.5,"b":12},
{"d":"2003-01","o":13,"a":0.2,"b":13},{"d":"2003-02","o":14,"a":2,"b":12},{"d":"2003-03","o":15,"a":5.7,"b":14},{"d":"2003-04","o":14,"a":12,"b":15},{"d":"2003-05","o":15,"a":16.1,"b":14},{"d":"2003-06","o":17.5,"a":13,"b":18.5},{"d":"2003-07","o":13,"a":8.9,"b":7.5},{"d":"2003-08","o":12,"a":5,"b":12},{"d":"2003-09","o":11,"a":4,"b":11},{"d":"2003-10","o":12,"a":1.9,"b":12},{"d":"2003-11","o":13,"a":1,"b":13},{"d":"2003-12","o":14,"a":0.2,"b":14},
{"d":"2004-01","o":14,"a":0.2,"b":13},{"d":"2004-02","o":15,"a":5,"b":15},{"d":"2004-03","o":14,"a":14.4,"b":14},{"d":"2004-04","o":15,"a":15,"b":15},{"d":"2004-05","o":16,"a":16.8,"b":16},{"d":"2004-06","o":15,"a":15,"b":19.2},{"d":"2004-07","o":14,"a":17,"b":15},{"d":"2004-08","o":16,"a":19.2,"b":14},{"d":"2004-09","o":15,"a":19.2,"b":17},{"d":"2004-10","o":14,"a":16,"b":19.2},{"d":"2004-11","o":15,"a":6,"b":15},{"d":"2004-12","o":14,"a":0.2,"b":14},
{"d":"2005-01","o":14,"a":0.2,"b":10.6},{"d":"2005-02","o":15,"a":0.2,"b":15},{"d":"2005-03","o":14,"a":5,"b":14},{"d":"2005-04","o":15,"a":12.3,"b":16},{"d":"2005-05","o":16,"a":16,"b":17},{"d":"2005-06","o":37,"a":43.4,"b":45.3},{"d":"2005-07","o":20,"a":20.3,"b":19.5},{"d":"2005-08","o":16,"a":17,"b":15},{"d":"2005-09","o":15,"a":15.7,"b":16},{"d":"2005-10","o":17.5,"a":5,"b":17.6},{"d":"2005-11","o":15,"a":1.9,"b":15},{"d":"2005-12","o":14,"a":0.5,"b":14},
{"d":"2006-01","o":15,"a":0.2,"b":15},{"d":"2006-02","o":14.5,"a":1,"b":14},{"d":"2006-03","o":15,"a":3,"b":16},{"d":"2006-04","o":14,"a":6.2,"b":14},{"d":"2006-05","o":13,"a":12,"b":20.1},{"d":"2006-06","o":14,"a":19.8,"b":20.3},{"d":"2006-07","o":13,"a":9.2,"b":12},{"d":"2006-08","o":12,"a":5,"b":7.5},{"d":"2006-09","o":13,"a":1.9,"b":13},{"d":"2006-10","o":12,"a":0.5,"b":12},{"d":"2006-11","o":13,"a":0.2,"b":14},{"d":"2006-12","o":13,"a":0.2,"b":13},
{"d":"2007-01","o":13,"a":0.2,"b":11.9},{"d":"2007-02","o":13,"a":0.5,"b":13},{"d":"2007-03","o":14,"a":5,"b":14},{"d":"2007-04","o":15,"a":9.7,"b":15},{"d":"2007-05","o":17,"a":14,"b":6.5},{"d":"2007-06","o":29,"a":21.8,"b":32.2},{"d":"2007-07","o":18,"a":16.5,"b":16},{"d":"2007-08","o":12,"a":7,"b":12},{"d":"2007-09","o":10,"a":1.9,"b":10},{"d":"2007-10","o":8,"a":0.5,"b":9},{"d":"2007-11","o":11,"a":0.2,"b":11},{"d":"2007-12","o":13,"a":0.2,"b":13}
]
},
"spacing":6,
"hconcat":[
{"spacing":18,"bounds":"flush","vconcat":[
 {"width":514,"height":320,"data":{"name":"lsl"},
  "encoding":{"x":{"field":"d","type":"temporal","scale":{"domain":[{"year":1986,"month":1,"date":1},{"year":2008,"month":1,"date":1}]},"axis":null}},
  "layer":[
   {"mark":{"type":"line","color":"#1616ff","strokeWidth":4.5},"encoding":{"y":{"field":"o","type":"quantitative","scale":{"domain":[0,300]},"axis":{"values":[0,50,100,150,200,250,300],"title":"Outflow (m³ sec⁻¹)"}}}},
   {"mark":{"type":"line","color":"#d21e1e","strokeWidth":2.2,"point":{"shape":"diamond","filled":true,"size":50,"color":"#d21e1e"}},"encoding":{"y":{"field":"a","type":"quantitative"}}},
   {"transform":[{"filter":"utcyear(datum.d)==1986 && utcmonth(datum.d)==5"}],"mark":{"type":"text","align":"left","baseline":"middle","font":"Lato","fontSize":27,"color":"#000"},"encoding":{"y":{"datum":278,"type":"quantitative"},"text":{"value":"Lesser Slave Lake"}}},
   {"transform":[{"filter":"utcyear(datum.d)==1986 && utcmonth(datum.d)==5"}],"mark":{"type":"text","align":"left","baseline":"middle","font":"Lato","fontSize":27,"color":"#000"},"encoding":{"y":{"datum":243,"type":"quantitative"},"text":{"value":"R² = 0.56"}}},
   {"transform":[{"filter":"utcyear(datum.d)==2006 && utcmonth(datum.d)==11"}],"mark":{"type":"text","align":"right","baseline":"middle","font":"Lato","fontSize":26,"fontWeight":"bold","color":"#000"},"encoding":{"y":{"datum":278,"type":"quantitative"},"text":{"value":"(a)"}}}
  ]},
 {"width":514,"height":320,"data":{"name":"cas"},
  "encoding":{"x":{"field":"d","type":"temporal","scale":{"domain":[{"year":1986,"month":1,"date":1},{"year":2008,"month":1,"date":1}]},"axis":null}},
  "layer":[
   {"mark":{"type":"line","color":"#1616ff","strokeWidth":4.5},"encoding":{"y":{"field":"o","type":"quantitative","scale":{"domain":[0,25]},"axis":{"values":[0,5,10,15,20,25],"title":"Outflow (m³ sec⁻¹)"}}}},
   {"mark":{"type":"line","color":"#d21e1e","strokeWidth":2.2,"point":{"shape":"diamond","filled":true,"size":50,"color":"#d21e1e"}},"encoding":{"y":{"field":"a","type":"quantitative"}}},
   {"transform":[{"filter":"utcyear(datum.d)==1986 && utcmonth(datum.d)==5"}],"mark":{"type":"text","align":"left","baseline":"middle","font":"Lato","fontSize":27,"color":"#000"},"encoding":{"y":{"datum":23.4,"type":"quantitative"},"text":{"value":"Cascade Reservoir-TAU, Bow"}}},
   {"transform":[{"filter":"utcyear(datum.d)==1986 && utcmonth(datum.d)==5"}],"mark":{"type":"text","align":"left","baseline":"middle","font":"Lato","fontSize":27,"color":"#000"},"encoding":{"y":{"datum":20.7,"type":"quantitative"},"text":{"value":"R² = 0.17"}}},
   {"transform":[{"filter":"utcyear(datum.d)==2006 && utcmonth(datum.d)==10"}],"mark":{"type":"text","align":"right","baseline":"middle","font":"Lato","fontSize":26,"fontWeight":"bold","color":"#000"},"encoding":{"y":{"datum":23,"type":"quantitative"},"text":{"value":"(c)"}}}
  ]},
 {"width":514,"height":320,"data":{"name":"bar"},
  "encoding":{"x":{"field":"d","type":"temporal","scale":{"domain":[{"year":1986,"month":1,"date":1},{"year":2008,"month":1,"date":1}]},"axis":{"title":null,"format":"%b-%y","values":[{"year":1986,"month":1,"date":1},{"year":1987,"month":1,"date":1},{"year":1988,"month":1,"date":1},{"year":1989,"month":1,"date":1},{"year":1990,"month":1,"date":1},{"year":1991,"month":1,"date":1},{"year":1992,"month":1,"date":1},{"year":1993,"month":1,"date":1},{"year":1994,"month":1,"date":1},{"year":1995,"month":1,"date":1},{"year":1996,"month":1,"date":1},{"year":1997,"month":1,"date":1},{"year":1998,"month":1,"date":1},{"year":1999,"month":1,"date":1},{"year":2000,"month":1,"date":1},{"year":2001,"month":1,"date":1},{"year":2002,"month":1,"date":1},{"year":2003,"month":1,"date":1},{"year":2004,"month":1,"date":1},{"year":2005,"month":1,"date":1},{"year":2006,"month":1,"date":1},{"year":2007,"month":1,"date":1}]}}},
  "layer":[
   {"mark":{"type":"line","color":"#1616ff","strokeWidth":4.5},"encoding":{"y":{"field":"o","type":"quantitative","scale":{"domain":[0,60]},"axis":{"values":[0,10,20,30,40,50,60],"title":"Outflow (m³ sec⁻¹)"}}}},
   {"mark":{"type":"line","color":"#d21e1e","strokeWidth":2.2,"point":{"shape":"diamond","filled":true,"size":50,"color":"#d21e1e"}},"encoding":{"y":{"field":"a","type":"quantitative"}}},
   {"transform":[{"filter":"utcyear(datum.d)==1986 && utcmonth(datum.d)==4"}],"mark":{"type":"text","align":"left","baseline":"middle","font":"Lato","fontSize":27,"color":"#000"},"encoding":{"y":{"datum":56.5,"type":"quantitative"},"text":{"value":"Barrier Lake Near Seebe, Bow"}}},
   {"transform":[{"filter":"utcyear(datum.d)==1986 && utcmonth(datum.d)==4"}],"mark":{"type":"text","align":"left","baseline":"middle","font":"Lato","fontSize":27,"color":"#000"},"encoding":{"y":{"datum":50,"type":"quantitative"},"text":{"value":"R² = 0.42"}}},
   {"transform":[{"filter":"utcyear(datum.d)==2007 && utcmonth(datum.d)==1"}],"mark":{"type":"text","align":"right","baseline":"middle","font":"Lato","fontSize":26,"fontWeight":"bold","color":"#000"},"encoding":{"y":{"datum":55,"type":"quantitative"},"text":{"value":"(e)"}}}
  ]}
]},
{"spacing":16,"bounds":"flush","vconcat":[
 {"width":514,"height":320,"data":{"name":"lsl"},
  "encoding":{"x":{"field":"d","type":"temporal","scale":{"domain":[{"year":1986,"month":1,"date":1},{"year":2008,"month":1,"date":1}]},"axis":null}},
  "layer":[
   {"mark":{"type":"line","color":"#1616ff","strokeWidth":4.5},"encoding":{"y":{"field":"o","type":"quantitative","scale":{"domain":[0,300]},"axis":{"values":[0,50,100,150,200,250,300],"title":"Outflow (m³ sec⁻¹)"}}}},
   {"mark":{"type":"line","color":"#d21e1e","strokeWidth":2.2,"point":{"shape":"diamond","filled":true,"size":50,"color":"#d21e1e"}},"encoding":{"y":{"field":"b","type":"quantitative"}}},
   {"transform":[{"filter":"utcyear(datum.d)==1986 && utcmonth(datum.d)==6"}],"mark":{"type":"text","align":"left","baseline":"middle","font":"Lato","fontSize":27,"color":"#000"},"encoding":{"y":{"datum":281.7,"type":"quantitative"},"text":{"value":"Lesser Slave Lake"}}},
   {"transform":[{"filter":"utcyear(datum.d)==1986 && utcmonth(datum.d)==6"}],"mark":{"type":"text","align":"left","baseline":"middle","font":"Lato","fontSize":27,"color":"#000"},"encoding":{"y":{"datum":248,"type":"quantitative"},"text":{"value":"R² = 0.98"}}},
   {"transform":[{"filter":"utcyear(datum.d)==2006 && utcmonth(datum.d)==10"}],"mark":{"type":"text","align":"right","baseline":"middle","font":"Lato","fontSize":26,"fontWeight":"bold","color":"#000"},"encoding":{"y":{"datum":277,"type":"quantitative"},"text":{"value":"(b)"}}}
  ]},
 {"width":514,"height":320,"data":{"name":"cas"},
  "encoding":{"x":{"field":"d","type":"temporal","scale":{"domain":[{"year":1986,"month":1,"date":1},{"year":2008,"month":1,"date":1}]},"axis":null}},
  "layer":[
   {"mark":{"type":"line","color":"#1616ff","strokeWidth":4.5},"encoding":{"y":{"field":"o","type":"quantitative","scale":{"domain":[0,25]},"axis":{"values":[0,5,10,15,20,25],"title":"Outflow (m³ sec⁻¹)"}}}},
   {"mark":{"type":"line","color":"#d21e1e","strokeWidth":2.2,"point":{"shape":"diamond","filled":true,"size":50,"color":"#d21e1e"}},"encoding":{"y":{"field":"b","type":"quantitative"}}},
   {"transform":[{"filter":"utcyear(datum.d)==1986 && utcmonth(datum.d)==4"}],"mark":{"type":"text","align":"left","baseline":"middle","font":"Lato","fontSize":27,"color":"#000"},"encoding":{"y":{"datum":23.3,"type":"quantitative"},"text":{"value":"Cascade Reservoir-TAU, Bow"}}},
   {"transform":[{"filter":"utcyear(datum.d)==1986 && utcmonth(datum.d)==4"}],"mark":{"type":"text","align":"left","baseline":"middle","font":"Lato","fontSize":27,"color":"#000"},"encoding":{"y":{"datum":20.7,"type":"quantitative"},"text":{"value":"R² = 0.61"}}},
   {"transform":[{"filter":"utcyear(datum.d)==2006 && utcmonth(datum.d)==10"}],"mark":{"type":"text","align":"right","baseline":"middle","font":"Lato","fontSize":26,"fontWeight":"bold","color":"#000"},"encoding":{"y":{"datum":22.6,"type":"quantitative"},"text":{"value":"(d)"}}}
  ]},
 {"width":514,"height":320,"data":{"name":"bar"},
  "encoding":{"x":{"field":"d","type":"temporal","scale":{"domain":[{"year":1986,"month":1,"date":1},{"year":2008,"month":1,"date":1}]},"axis":{"title":null,"format":"%b-%y","values":[{"year":1986,"month":1,"date":1},{"year":1987,"month":1,"date":1},{"year":1988,"month":1,"date":1},{"year":1989,"month":1,"date":1},{"year":1990,"month":1,"date":1},{"year":1991,"month":1,"date":1},{"year":1992,"month":1,"date":1},{"year":1993,"month":1,"date":1},{"year":1994,"month":1,"date":1},{"year":1995,"month":1,"date":1},{"year":1996,"month":1,"date":1},{"year":1997,"month":1,"date":1},{"year":1998,"month":1,"date":1},{"year":1999,"month":1,"date":1},{"year":2000,"month":1,"date":1},{"year":2001,"month":1,"date":1},{"year":2002,"month":1,"date":1},{"year":2003,"month":1,"date":1},{"year":2004,"month":1,"date":1},{"year":2005,"month":1,"date":1},{"year":2006,"month":1,"date":1},{"year":2007,"month":1,"date":1}]}}},
  "layer":[
   {"mark":{"type":"line","color":"#1616ff","strokeWidth":4.5},"encoding":{"y":{"field":"o","type":"quantitative","scale":{"domain":[0,60]},"axis":{"values":[0,10,20,30,40,50,60],"title":"Outflow (m³ sec⁻¹)"}}}},
   {"mark":{"type":"line","color":"#d21e1e","strokeWidth":2.2,"point":{"shape":"diamond","filled":true,"size":50,"color":"#d21e1e"}},"encoding":{"y":{"field":"b","type":"quantitative"}}},
   {"transform":[{"filter":"utcyear(datum.d)==1986 && utcmonth(datum.d)==8"}],"mark":{"type":"text","align":"left","baseline":"middle","font":"Lato","fontSize":27,"color":"#000"},"encoding":{"y":{"datum":55.6,"type":"quantitative"},"text":{"value":"Barrier Lake Near Seebe, Bow"}}},
   {"transform":[{"filter":"utcyear(datum.d)==1986 && utcmonth(datum.d)==8"}],"mark":{"type":"text","align":"left","baseline":"middle","font":"Lato","fontSize":27,"color":"#000"},"encoding":{"y":{"datum":49.2,"type":"quantitative"},"text":{"value":"R² = 0.83"}}},
   {"transform":[{"filter":"utcyear(datum.d)==2006 && utcmonth(datum.d)==10"}],"mark":{"type":"text","align":"right","baseline":"middle","font":"Lato","fontSize":26,"fontWeight":"bold","color":"#000"},"encoding":{"y":{"datum":55.6,"type":"quantitative"},"text":{"value":"(f)"}}}
  ]}
]}
]
}
